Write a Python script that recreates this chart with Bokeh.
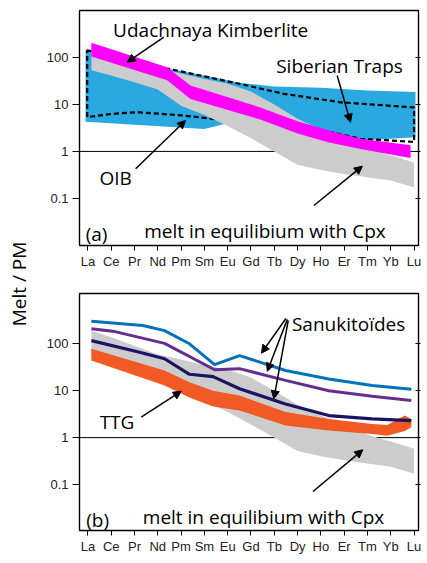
import math
from bokeh.plotting import figure
from bokeh.models import (Range1d, FixedTicker, LogAxis, Span, Arrow, NormalHead,
                          CustomJSTickFormatter)
from bokeh.layouts import row, column
from bokeh.embed import file_html
from bokeh.resources import INLINE
from bokeh.core.properties import value

# ---------------- data ----------------
elements = ["La", "Ce", "Pr", "Nd", "Pm", "Sm", "Eu", "Gd", "Tb", "Dy", "Ho", "Er", "Tm", "Yb", "Lu"]
y_ticks = [0.1, 1, 10, 100]

# melt in equilibrium with Cpx (grey band, both panels)
cpx_x = [0.15, 1, 2, 3, 4, 5, 6, 7, 8, 9, 10, 11, 12, 13, 14]
cpx_upper = [190, 138, 91, 59, 46, 35, 28, 19, 10, 5.0, 2.95, 1.9, 1.15, 0.83, 0.58]
cpx_lower = [54, 42, 30, 21, 9.5, 6.0, 3.5, 1.9, 1.0, 0.52, 0.40, 0.33, 0.28, 0.24, 0.17]

# Udachnaya kimberlite (magenta band)
kimb_x = [0.15, 3.4, 4.4, 7.4, 9.0, 10.35, 11.7, 13.85]
kimb_upper = [209, 63, 25.7, 8.7, 4.4, 2.8, 1.86, 1.35]
kimb_lower = [107, 33, 13.2, 4.8, 2.4, 1.55, 1.12, 0.72]

# OIB field (blue)
oib_x_up = [-0.1, 3.4, 5.0, 6.55, 8.0, 10.0, 12.0, 14.06]
oib_up = [145, 59, 42, 29, 24.5, 23, 20, 18.6]
oib_x_lo = [-0.1, 5.0, 6.0, 8.0, 10.4, 11.7, 14.06]
oib_lo = [4.3, 3.0, 4.0, 3.5, 2.5, 1.7, 2.0]

# Siberian Traps field (dashed outline)
sib_x_up = [-0.03, 3.4, 6.55, 8.41, 10.85, 14.0]
sib_up = [145, 59, 27.5, 17, 11.2, 8.7]
sib_x_lo = [-0.03, 1.0, 2.1, 4.0, 5.0, 8.0, 10.42, 11.7, 14.0]
sib_lo = [5.4, 6.3, 6.9, 5.9, 5.2, 3.5, 2.6, 1.86, 1.6]

# TTG (orange band)
ttg_x = [0.15, 3.29, 4.36, 5.37, 6.51, 8.48, 10.34, 12.2, 12.85, 13.6, 13.88]
ttg_upper = [78, 27, 15.1, 10.0, 7.9, 3.5, 2.5, 1.95, 1.86, 2.95, 2.5]
ttg_lower = [44, 12.9, 7.2, 4.6, 3.8, 1.82, 1.41, 1.2, 1.1, 1.38, 1.66]

# Sanukitoids
san1_x = [0.15, 2.36, 3.29, 4.36, 5.44, 6.51, 8.48, 10.34, 12.2, 13.88]
san1 = [302, 245, 191, 100, 36, 56, 27, 17.8, 12.9, 10.7]
san2_x = [0.15, 1.07, 3.29, 5.44, 6.51, 8.48, 10.34, 12.2, 13.88]
san2 = [209, 186, 102, 28, 29.5, 16.6, 10.0, 7.6, 6.2]
san3_x = [0.15, 2.22, 3.29, 4.36, 5.37, 6.51, 8.48, 10.34, 12.2, 13.88]
san3 = [117, 66, 48, 22.4, 20, 11.0, 5.2, 2.95, 2.5, 2.3]

TXT_FONT = "Open Sans"
TICK_FONT = "Liberation Sans"


def make_panel(fh, ymin, ymax, bt, bb):
    p = figure(frame_width=339, frame_height=fh,
               x_range=Range1d(-0.36, 14.19), y_range=Range1d(ymin, ymax),
               y_axis_type="log", output_backend="svg", toolbar_location=None,
               min_border_left=33, min_border_right=6,
               min_border_top=bt, min_border_bottom=bb)
    p.grid.visible = False
    p.outline_line_color = "black"
    p.outline_line_width = 1.4
    p.outline_line_alpha = 1

    p.xaxis.ticker = FixedTicker(ticks=list(range(len(elements))))
    p.xaxis.major_label_overrides = {i: e for i, e in enumerate(elements)}
    p.xaxis.major_tick_out = 5
    p.xaxis.major_tick_in = 0
    p.xaxis.minor_tick_line_color = None
    p.xaxis.major_label_standoff = 3
    p.xaxis.major_label_text_font = TICK_FONT
    p.xaxis.major_label_text_font_size = "13px"
    p.xaxis.major_label_text_color = "#222222"

    p.yaxis.ticker = FixedTicker(ticks=y_ticks, minor_ticks=[])
    p.yaxis.formatter = CustomJSTickFormatter(code="return tick.toString();")
    p.yaxis.major_tick_out = 7
    p.yaxis.major_tick_in = 0
    p.yaxis.minor_tick_line_color = None
    p.yaxis.major_label_standoff = 4
    p.yaxis.major_label_text_font = TICK_FONT
    p.yaxis.major_label_text_font_size = "13px"
    p.yaxis.major_label_text_color = "#222222"

    r = LogAxis(ticker=FixedTicker(ticks=y_ticks, minor_ticks=[]),
                major_tick_in=3, major_tick_out=2, minor_tick_line_color=None,
                major_label_text_font_size="1px", major_label_text_alpha=0,
                major_label_standoff=0, axis_line_color=None)
    p.add_layout(r, "right")

    p.add_layout(Span(location=1, dimension="width", line_color="black",
                      line_width=1, level="underlay"))
    return p


def arrow(p, x0, y0, x1, y1):
    p.add_layout(Arrow(end=NormalHead(size=8, fill_color="black", line_color="black", line_width=1),
                       x_start=x0, y_start=y0, x_end=x1, y_end=y1,
                       line_color="black", line_width=1.5))


def labels(p, xs, ys, texts, size="19px"):
    p.text(x=xs, y=ys, text=texts, text_font=value(TXT_FONT), text_font_size=size,
           text_align="center", text_baseline="alphabetic", text_color="black")


# ---------------- panel (a) ----------------
p1 = make_panel(235, 10 ** -2.01, 10 ** 3.01, 10, 27)
p1.patch(x=oib_x_up + oib_x_lo[::-1], y=oib_up + oib_lo[::-1],
         fill_color="#29a9e0", line_color=None)
p1.patch(x=sib_x_up + sib_x_lo[::-1], y=sib_up + sib_lo[::-1],
         fill_alpha=0, line_color="black", line_width=2.2, line_dash="5 3")
p1.varea(x=cpx_x, y1=cpx_lower, y2=cpx_upper, fill_color="#cccccc")
p1.varea(x=kimb_x, y1=kimb_lower, y2=kimb_upper, fill_color="#ff00ff")

labels(p1, [5.27, 10.8, 1.19, 7.6, 0.37], [400, 68, 0.277, 0.0195, 0.0176],
       ["Udachnaya Kimberlite", "Siberian Traps", "OIB", "melt in equilibium with Cpx", "(a)"])

arrow(p1, 3.26, 10 ** 2.44, 1.69, 10 ** 1.906)
arrow(p1, 10.70, 10 ** 1.62, 11.27, 10 ** 0.624)
arrow(p1, 2.05, 10 ** -0.372, 4.19, 10 ** 0.66)
arrow(p1, 9.70, 10 ** -1.156, 11.78, 10 ** -0.316)

# ---------------- panel (b) ----------------
p2 = make_panel(237, 10 ** -1.98, 10 ** 3.072, 21, 27)
p2.varea(x=cpx_x, y1=cpx_lower, y2=cpx_upper, fill_color="#cccccc")
p2.varea(x=ttg_x, y1=ttg_lower, y2=ttg_upper, fill_color="#f15a24")
p2.line(x=san3_x, y=san3, line_color="#1b1464", line_width=3.2)
p2.line(x=san2_x, y=san2, line_color="#662d91", line_width=3)
p2.line(x=san1_x, y=san1, line_color="#0072bc", line_width=3)

labels(p2, [11.19, 1.25, 7.54, 0.42], [259, 2.13, 10 ** -1.70, 10 ** -1.746],
       ["Sanukitoïdes", "TTG", "melt in equilibium with Cpx", "(b)"])

arrow(p2, 2.29, 10 ** 0.435, 4.01, 10 ** 0.989)
arrow(p2, 8.50, 10 ** 2.54, 7.45, 10 ** 1.80)
arrow(p2, 8.56, 10 ** 2.52, 7.70, 10 ** 1.416)
arrow(p2, 8.60, 10 ** 2.50, 7.98, 10 ** 0.827)
arrow(p2, 9.66, 10 ** -1.149, 11.80, 10 ** -0.26)

# ---------------- shared y label ----------------
p0 = figure(frame_width=43, frame_height=557, x_range=Range1d(0, 1), y_range=Range1d(0, 1),
            output_backend="svg", toolbar_location=None, min_border=0)
p0.axis.visible = False
p0.grid.visible = False
p0.outline_line_color = None
p0.text(x=[0.428], y=[0.491], text=["Melt / PM"], angle=math.pi / 2,
        text_font=value(TXT_FONT), text_font_size="19px",
        text_align="center", text_baseline="middle", text_color="black")

layout = row(p0, column(p1, p2))
open("out.html", "w").write(file_html(layout, INLINE))
